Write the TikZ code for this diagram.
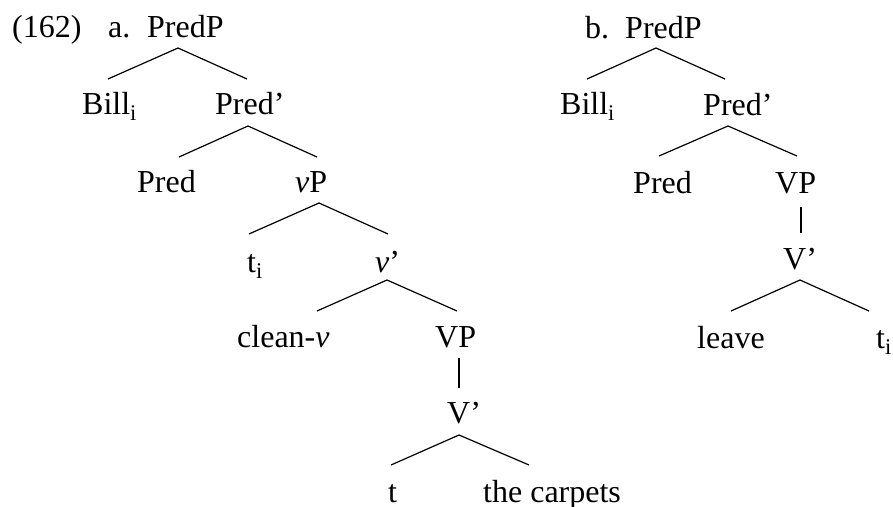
\documentclass[tikz,border=0pt]{standalone}
\usepackage{fontspec}
\setmainfont{Liberation Serif}
\begin{document}
\begin{tikzpicture}[x=1pt,y=-1pt,
  lab/.style={anchor=base west,inner sep=0pt,font=\fontsize{32}{38}\selectfont},
  br/.style={line width=1.2pt}]
\useasboundingbox (0,0) rectangle (893,506);
% ---- tree a ----
\node[lab] (n162) at (12,37) {(162)};
\node[lab] (la) at (108,37) {a.};
\node[lab] (aPredP) at (147,37) {PredP};
\node[lab] (aBill) at (82,114) {Bill\textsubscript{i}};
\node[lab] (aPredbar) at (215,114) {Pred'};
\node[lab] (aPred) at (137,192) {Pred};
\node[lab] (avP) at (295,192) {\textit{v}P};
\node[lab] (ati) at (247,272) {t\textsubscript{i}};
\node[lab] (avbar) at (375,272) {\textit{v}'};
\node[lab] (aclean) at (237,347) {clean-\textit{v}};
\node[lab] (aVP) at (435,347) {VP};
\node[lab] (aVbar) at (447,423) {V'};
\node[lab] (at) at (388,502) {t};
\node[lab] (acarpets) at (483,502) {the carpets};
% ---- tree b ----
\node[lab] (lb) at (585,38) {b.};
\node[lab] (bPredP) at (625,38) {PredP};
\node[lab] (bBill) at (560,114) {Bill\textsubscript{i}};
\node[lab] (bPredbar) at (703,115) {Pred'};
\node[lab] (bPred) at (633,193) {Pred};
\node[lab] (bVP) at (775,193) {VP};
\node[lab] (bVbar) at (783,269) {V'};
\node[lab] (bleave) at (697,348) {leave};
\node[lab] (bti) at (876,348) {t\textsubscript{i}};
% ---- branch points a ----
\coordinate (aPredP-dn) at (178,48);
\coordinate (aBill-up) at (108,79);
\coordinate (aPredbar-up) at (247,79);
\coordinate (aPredbar-dn) at (248,126);
\coordinate (aPred-up) at (179,157);
\coordinate (avP-up) at (317,157);
\coordinate (avP-dn) at (319,203);
\coordinate (ati-up) at (249,234);
\coordinate (avbar-up) at (388,234);
\coordinate (avbar-dn) at (387,280);
\coordinate (aclean-up) at (317,311);
\coordinate (aVP-up) at (457,311);
\coordinate (aVP-dn) at (459,358);
\coordinate (aVbar-up) at (459,388);
\coordinate (aVbar-dn) at (459,435);
\coordinate (at-up) at (391,465);
\coordinate (acarpets-up) at (529,465);
% ---- branch points b ----
\coordinate (bPredP-dn) at (656,48);
\coordinate (bBill-up) at (587,79);
\coordinate (bPredbar-up) at (725,79);
\coordinate (bPredbar-dn) at (728,126);
\coordinate (bPred-up) at (659,156);
\coordinate (bVP-up) at (797,156);
\coordinate (bVP-dn) at (801,207);
\coordinate (bVbar-up) at (801,233);
\coordinate (bVbar-dn) at (800,280);
\coordinate (bleave-up) at (731,311);
\coordinate (bti-up) at (869,311);
% ---- branches ----
\draw[br] (aBill-up) -- (aPredP-dn) -- (aPredbar-up);
\draw[br] (aPred-up) -- (aPredbar-dn) -- (avP-up);
\draw[br] (ati-up) -- (avP-dn) -- (avbar-up);
\draw[br] (aclean-up) -- (avbar-dn) -- (aVP-up);
\draw[br] (aVP-dn) -- (aVbar-up);
\draw[br] (at-up) -- (aVbar-dn) -- (acarpets-up);
\draw[br] (bBill-up) -- (bPredP-dn) -- (bPredbar-up);
\draw[br] (bPred-up) -- (bPredbar-dn) -- (bVP-up);
\draw[br] (bVP-dn) -- (bVbar-up);
\draw[br] (bleave-up) -- (bVbar-dn) -- (bti-up);
\end{tikzpicture}
\end{document}
